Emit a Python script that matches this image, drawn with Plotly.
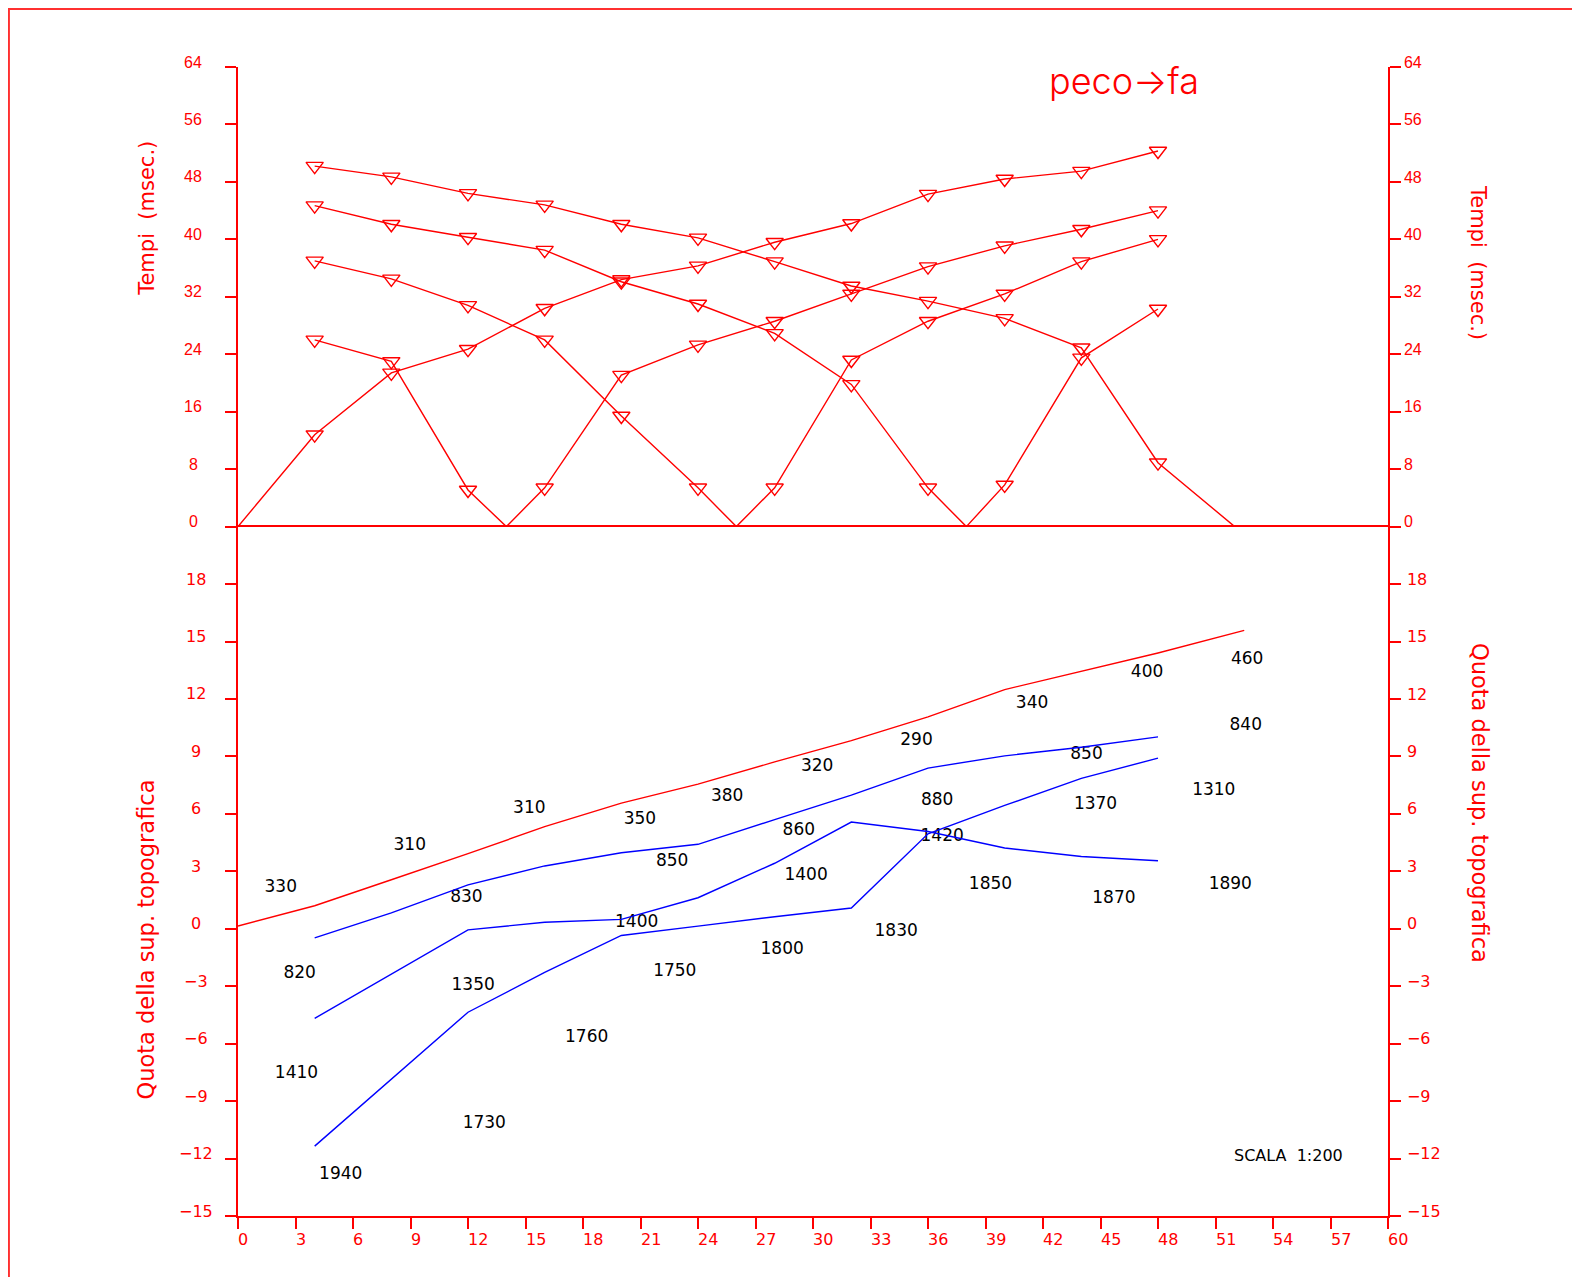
import plotly.graph_objects as go

# --- dati: dromocrone (tempi in msec) ---
geofoni = [4, 8, 12, 16, 20, 24, 28, 32, 36, 40, 44, 48]
scoppi = [0, 14, 26, 38, 52]
tempi_s0 = [12.8, 21.4, 24.7, 30.4, 34.4, 36.3, 39.6, 42.2, 46.3, 48.4, 49.5, 52.3]
tempi_s14 = [26.0, 23.0, 5.1, 5.4, 21.1, 25.3, 28.6, 32.4, 36.2, 39.1, 41.4, 44.0]
tempi_s26 = [37.0, 34.5, 30.8, 26.0, 15.4, 5.4, 5.4, 23.2, 28.6, 32.4, 36.9, 40.0]
tempi_s38 = [44.7, 42.1, 40.3, 38.5, 34.1, 31.0, 26.9, 19.8, 5.4, 5.8, 23.5, 30.3]
tempi_s52 = [50.2, 48.7, 46.4, 44.8, 42.1, 40.2, 36.9, 33.5, 31.4, 29.0, 24.9, 8.9]
tempi = [tempi_s0, tempi_s14, tempi_s26, tempi_s38, tempi_s52]

# --- sezione: superficie topografica e rifrattori ---
quota_x = [0, 4, 8, 12, 16, 20, 24, 28, 32, 36, 40, 44, 48, 52.5]
quota_sup = [0.14, 1.2, 2.56, 3.92, 5.33, 6.56, 7.55, 8.71, 9.82, 11.06, 12.49, 13.43, 14.4, 15.58]
rifr1 = [-0.48, 0.83, 2.29, 3.28, 3.97, 4.41, 5.7, 6.98, 8.39, 9.03, 9.48, 10.02]
rifr2 = [-4.68, -2.38, -0.06, 0.34, 0.49, 1.62, 3.42, 5.57, 5.08, 4.22, 3.77, 3.55]
rifr3 = [-11.35, -7.85, -4.36, -2.28, -0.35, 0.14, 0.63, 1.08, 4.96, 6.44, 7.85, 8.91]

# velocita' (m/s) scritte nella sezione
vel_testo = ["330", "310", "310", "350", "380", "320", "290", "340", "400", "460",
             "820", "830", "850", "860", "880", "850", "840",
             "1410", "1350", "1400", "1400", "1420", "1370", "1310",
             "1940", "1730", "1760", "1750", "1800", "1830", "1850", "1870", "1890"]
vel_x = [2.23, 8.96, 15.2, 20.97, 25.52, 30.22, 35.4, 41.43, 47.43, 52.65,
         3.22, 11.92, 22.65, 29.26, 36.48, 44.27, 52.58,
         3.05, 12.27, 20.8, 29.64, 36.74, 44.74, 50.91,
         5.36, 12.85, 18.19, 22.79, 28.39, 34.34, 39.26, 45.7, 51.77]
vel_y = [2.12, 4.34, 6.27, 5.67, 6.91, 8.46, 9.8, 11.75, 13.36, 14.05,
         -2.33, 1.62, 3.48, 5.1, 6.66, 9.06, 10.61,
         -7.57, -2.97, 0.31, 2.78, 4.83, 6.46, 7.18,
         -12.85, -10.16, -5.69, -2.26, -1.12, -0.18, 2.29, 1.57, 2.31]

x_ticks = list(range(0, 61, 3))
t_ticks = list(range(0, 65, 8))
q_ticks = list(range(-15, 19, 3))

ROSSO = "#ff0000"
BLU = "#0000ff"
FONT_TICK = "Liberation Sans Narrow, Liberation Sans, Arial, sans-serif"
FONT_TXT = "DejaVu Sans, sans-serif"

fig = go.Figure()

# dromocrone: linee sull'asse di sinistra, geofoni (triangoli) sull'asse di destra
for s, t in zip(scoppi, tempi):
    pts = sorted(list(zip(geofoni, t)) + [(s, 0)])
    fig.add_trace(go.Scatter(x=[p[0] for p in pts], y=[p[1] for p in pts], xaxis="x", yaxis="y",
                             mode="lines", line=dict(color=ROSSO, width=1.4),
                             showlegend=False, hoverinfo="skip"))
    fig.add_trace(go.Scatter(x=geofoni, y=t, xaxis="x", yaxis="y3", mode="markers",
                             marker=dict(symbol="triangle-down-open", size=15, color=ROSSO,
                                         line=dict(width=1.4, color=ROSSO)),
                             showlegend=False, hoverinfo="skip"))

fig.add_trace(go.Scatter(x=quota_x, y=quota_sup, xaxis="x", yaxis="y2", mode="lines",
                         line=dict(color=ROSSO, width=1.4), showlegend=False))
for r in [rifr1, rifr2, rifr3]:
    fig.add_trace(go.Scatter(x=geofoni, y=r, xaxis="x", yaxis="y4", mode="lines",
                             line=dict(color=BLU, width=1.4), showlegend=False))

fig.add_trace(go.Scatter(x=vel_x, y=vel_y, xaxis="x", yaxis="y2", mode="text", text=vel_testo,
                         textposition="middle center",
                         textfont=dict(family=FONT_TXT, size=17, color="black"),
                         showlegend=False, hoverinfo="skip"))

asse = dict(showgrid=False, zeroline=False, showline=True, linecolor=ROSSO, linewidth=1.5,
            ticks="outside", tickcolor=ROSSO, tickwidth=1.5, ticklen=11)

fig.update_layout(
    width=1580, height=1277,
    margin=dict(l=230, r=200, t=59, b=69),
    paper_bgcolor="white", plot_bgcolor="white",
    xaxis=dict(asse, range=[0, 60], domain=[0, 1], anchor="y2", tickvals=x_ticks,
               mirror=True, showticklabels=False),
    yaxis=dict(asse, range=[0, 64], domain=[0.6, 1], anchor="x", side="left", tickvals=t_ticks,
               showticklabels=False),
    yaxis3=dict(asse, range=[0, 64], anchor="x", overlaying="y", side="right", tickvals=t_ticks,
                tickfont=dict(family=FONT_TICK, size=16, color=ROSSO),
                ticklabelstandoff=0, ticklabelshift=-5),
    yaxis2=dict(asse, range=[-15, 21], domain=[0, 0.6], anchor="x", side="left", tickvals=q_ticks,
                showticklabels=False),
    yaxis4=dict(asse, range=[-15, 21], anchor="x", overlaying="y2", side="right", tickvals=q_ticks,
                tickfont=dict(family=FONT_TXT, size=16, color=ROSSO),
                ticklabelstandoff=3, ticklabelshift=-5),
)

# etichette degli assi a sinistra (centrate) e in basso (a partire dalla tacca)
for v in t_ticks:
    fig.add_annotation(text=str(v), xref="paper", yref="y", x=-0.039, y=v, yshift=5,
                       showarrow=False, xanchor="center", yanchor="middle",
                       font=dict(family=FONT_TICK, size=16, color=ROSSO))
for v in q_ticks:
    fig.add_annotation(text=str(v).replace("-", "\u2212"), xref="paper", yref="y2", x=-0.0368,
                       y=v, yshift=5, showarrow=False, xanchor="center", yanchor="middle",
                       font=dict(family=FONT_TXT, size=16, color=ROSSO))
for v in x_ticks:
    fig.add_annotation(text=str(v), xref="x", yref="paper", x=v, y=0, xshift=-2, yshift=-12,
                       showarrow=False, xanchor="left", yanchor="top",
                       font=dict(family=FONT_TXT, size=16, color=ROSSO))

titoli = [
    ("Tempi  (msec.)", -0.079, 0.868, -90, 21),
    ("Tempi  (msec.)", 1.0777, 0.830, 90, 21),
    ("Quota della sup. topografica", -0.0803, 0.2404, -90, 22.5),
    ("Quota della sup. topografica", 1.080, 0.3595, 90, 22.5),
]
for testo, ax, ay, ang, sz in titoli:
    fig.add_annotation(text=testo, xref="paper", yref="paper", x=ax, y=ay, textangle=ang,
                       showarrow=False, xanchor="center", yanchor="middle",
                       font=dict(family=FONT_TXT, size=sz, color=ROSSO))

fig.add_annotation(text="peco→fa", xref="paper", yref="paper", x=0.7706, y=0.988,
                   showarrow=False, xanchor="center", yanchor="middle",
                   font=dict(family="Inter, Lato, DejaVu Sans, sans-serif", size=36,
                             color=ROSSO, weight=300))
fig.add_annotation(text="SCALA  1:200", xref="x", yref="y2", x=54.8, y=-11.84,
                   showarrow=False, xanchor="center", yanchor="middle",
                   font=dict(family=FONT_TXT, size=16, color="black"))

# cornice della tavola
fig.add_shape(type="path", xref="paper", yref="paper",
              path="M -0.1992,-0.07 L -0.1992,1.0504 L 1.18,1.0504",
              line=dict(color="#ff3030", width=2))

fig.write_html("out.html")
